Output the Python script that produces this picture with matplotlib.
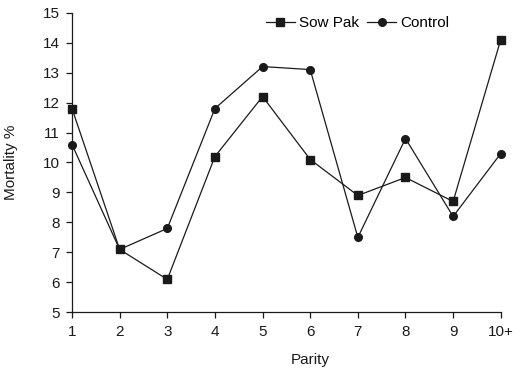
import matplotlib
matplotlib.use("Agg")
import matplotlib.pyplot as plt

parity = ["1", "2", "3", "4", "5", "6", "7", "8", "9", "10+"]
sow_pak = [11.8, 7.1, 6.1, 10.2, 12.2, 10.1, 8.9, 9.5, 8.7, 14.1]
control = [10.6, 7.1, 7.8, 11.8, 13.2, 13.1, 7.5, 10.8, 8.2, 10.3]

plt.rcParams['font.family'] = ['Liberation Sans', 'DejaVu Sans']
plt.rcParams['font.size'] = 11

fig = plt.figure(figsize=(5.2, 3.71), dpi=100)
ax = fig.add_axes([0.1385, 0.158, 0.8245, 0.808])

x = list(range(len(parity)))
col = '#1a1a1a'
ax.plot(x, sow_pak, color=col, lw=0.9, marker='s', ms=5.5, label='Sow Pak', clip_on=False)
ax.plot(x, control, color=col, lw=0.9, marker='o', ms=5.5, label='Control', clip_on=False)

ax.set_xlim(0, len(parity) - 1)
ax.set_ylim(5, 15)
ax.set_xticks(x)
ax.set_xticklabels(parity)
ax.set_yticks(range(5, 16))

for s in ['top', 'right']:
    ax.spines[s].set_visible(False)
for s in ['left', 'bottom']:
    ax.spines[s].set_color(col)
    ax.spines[s].set_linewidth(0.9)
ax.tick_params(direction='out', length=4, width=0.9, color=col, labelcolor=col, pad=5)

ax.set_xlabel('Parity', color=col)
ax.xaxis.set_label_coords(0.555, -0.135)
ax.set_ylabel('Mortality %', color=col)
ax.yaxis.set_label_coords(-0.125, 0.5)

ax.legend(loc='upper left', bbox_to_anchor=(0.42, 1.035), ncol=2, frameon=False,
          handlelength=1.9, handletextpad=0.3, columnspacing=0.5, fontsize=11)

fig.savefig('out.png', dpi=100)
